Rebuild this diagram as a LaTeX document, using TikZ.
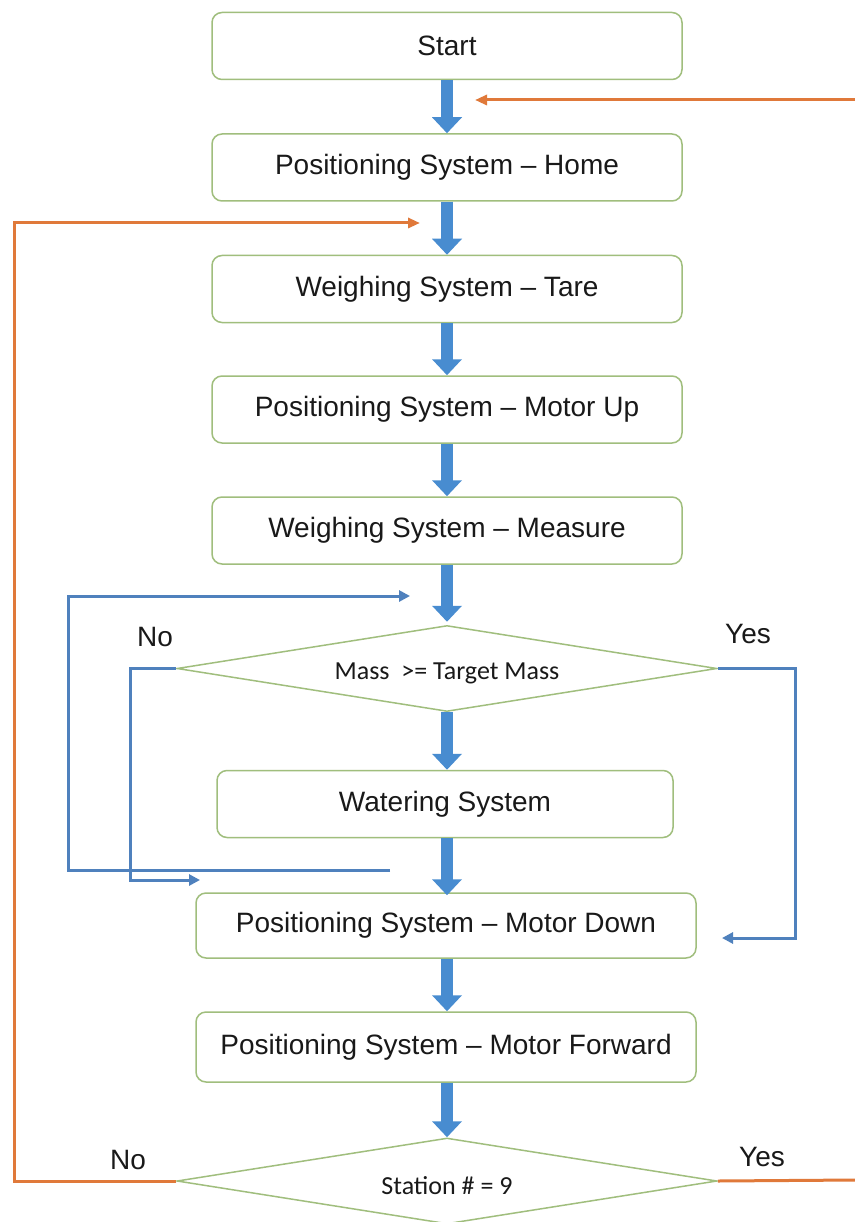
\documentclass[tikz,border=0pt]{standalone}
\usepackage{fontspec}
\setmainfont{Liberation Sans}
\newfontfamily\calfont{Carlito}
\usetikzlibrary{arrows.meta,shapes.geometric}
\definecolor{boxgreen}{RGB}{160,190,125}
\definecolor{flowblue}{RGB}{72,140,208}
\definecolor{lineblue}{RGB}{79,129,189}
\definecolor{lineorange}{RGB}{224,121,58}
\definecolor{txt}{RGB}{25,25,25}
\begin{document}
\begin{tikzpicture}[x=1pt,y=-1pt,
  stepbox/.style={draw=boxgreen, line width=1.5pt, rounded corners=10pt, fill=white,
    minimum height=67pt, inner sep=0pt, font=\fontsize{28}{32}\selectfont, text=txt},
  decision/.style={diamond, draw=boxgreen, line width=1.5pt, aspect=6.35,
    minimum width=540pt, minimum height=86pt, inner sep=0pt,
    font=\calfont\fontsize{26}{30}\selectfont, text=txt},
  flow/.style={draw=flowblue, line width=12pt, -{Triangle[length=16pt,width=29pt]}},
  loopb/.style={draw=lineblue, line width=3pt, -{Triangle[length=11pt,width=11pt]}},
  loopo/.style={draw=lineorange, line width=3pt, -{Triangle[length=12pt,width=10pt]}},
  lineo/.style={draw=lineorange, line width=3pt},
  lbl/.style={font=\fontsize{28}{32}\selectfont, text=txt}]
\fill[white] (0,0) rectangle (854,1222);
\useasboundingbox (0,0) rectangle (854,1222);

% boxes
\node[stepbox, minimum width=470pt] (start) at (447,46) {Start};
\node[stepbox, minimum width=470pt] (home) at (447,167.5) {Positioning System – Home};
\node[stepbox, minimum width=470pt] (tare) at (447,289) {Weighing System – Tare};
\node[stepbox, minimum width=470pt] (up) at (447,409.5) {Positioning System – Motor Up};
\node[stepbox, minimum width=470pt] (measure) at (447,530.5) {Weighing System – Measure};
\node[decision] (d1) at (447,668.5) {\raisebox{-11pt}[0pt][0pt]{Mass\ \ >= Target Mass}};
\node[stepbox, minimum width=456pt] (water) at (445,804) {Watering System};
\node[stepbox, minimum width=500pt, minimum height=65pt] (down) at (446,925.5) {Positioning System – Motor Down};
\node[stepbox, minimum width=500pt, minimum height=70pt] (fwd) at (446,1047) {Positioning System – Motor Forward};
\node[decision] (d2) at (447,1181) {\raisebox{-13pt}[0pt][0pt]{Station \# = 9}};

% labels
\node[lbl] (no1) at (155,637) {No};
\node[lbl] (yes1) at (748,634) {Yes};
\node[lbl] (no2) at (128,1160) {No};
\node[lbl] (yes2) at (762,1157) {Yes};

% thick flow arrows
\draw[flow] (start.south) -- (home.north);
\draw[flow] (home.south) -- (tare.north);
\draw[flow] (tare.south) -- (up.north);
\draw[flow] (up.south) -- (measure.north);
\draw[flow] (measure.south) -- ([yshift=3pt]d1.north);
\draw[flow] (d1.south) -- (d1.south |- water.north);
\draw[flow] (water.south -| d1.south) -- ([yshift=-3pt]down.north -| d1.south);
\draw[flow] (down.south -| d1.south) -- (fwd.north -| d1.south);
\draw[flow] (fwd.south -| d2.north) -- (d2.north);

% blue thin loops
\coordinate (fbstart) at (390,870);
\coordinate (fbend) at (410,596);
\draw[loopb] (fbstart) -- (68,870) -- (68,596) -- (fbend);
\coordinate (noend) at (200,880);
\draw[loopb] (d1.west) -- (130,668.5) |- (noend);
\coordinate (yesend) at (722,938);
\draw[loopb] (d1.east) -- (795,668.5) |- (yesend);

% orange loops
\coordinate (otopR) at (856,100);
\coordinate (otopend) at (475,100);
\draw[loopo] (otopR) -- (otopend);
\coordinate (oleftend) at (420,223);
\draw[loopo] (d2.west) -- (14,1181) |- (oleftend);
\coordinate (orightR) at (856,1180);
\draw[lineo] (d2.east) -- (orightR);
\end{tikzpicture}
\end{document}
